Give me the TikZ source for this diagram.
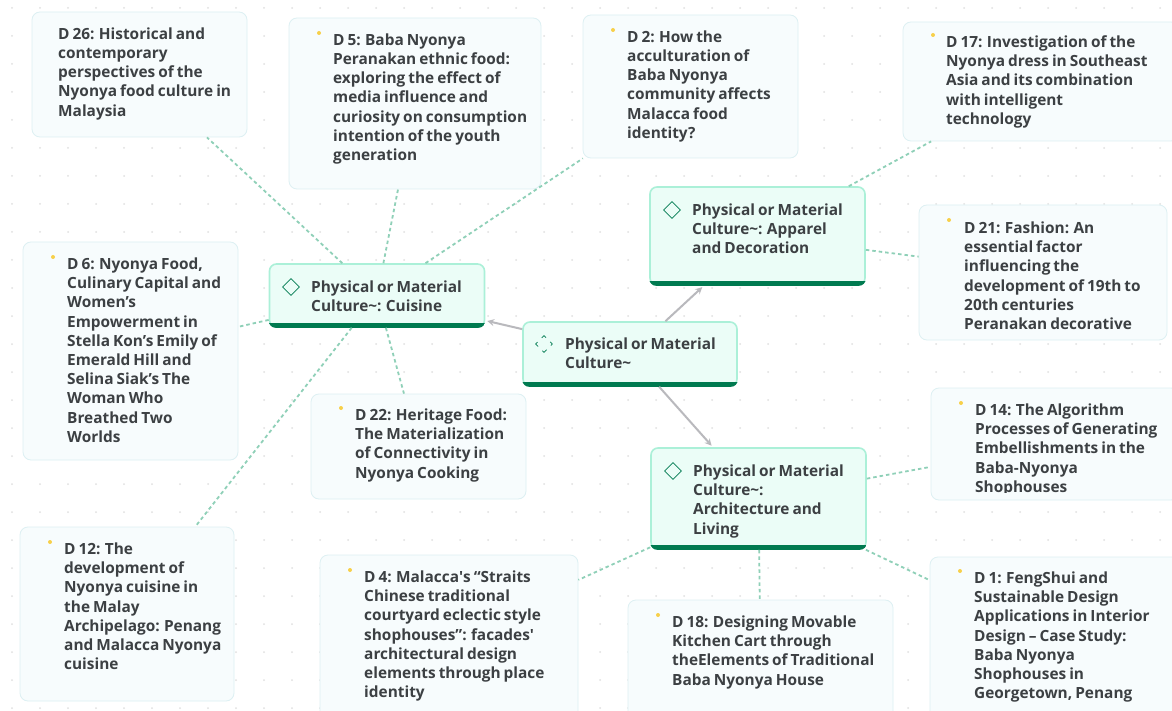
\documentclass[tikz,border=0pt]{standalone}
\usepackage{fontspec}
\setmainfont[WordSpace=0.75]{Open Sans}
\usetikzlibrary{shapes.geometric, arrows}
\definecolor{inkgray}{HTML}{3C4043}
\definecolor{cardfill}{HTML}{F7FCFD}
\definecolor{cardline}{HTML}{DDF0F3}
\definecolor{topicfill}{HTML}{EBFDF7}
\definecolor{topicline}{HTML}{ABF0D8}
\definecolor{topicbar}{HTML}{007A50}
\definecolor{linkgreen}{HTML}{8FD0B8}
\definecolor{arrowgray}{HTML}{B9B9BD}
\definecolor{dotyellow}{HTML}{F7D04A}
\tikzstyle{card} = [rectangle, rounded corners=8pt, draw=cardline, fill=cardfill, line width=0.8pt]
\tikzstyle{topic} = [rectangle, rounded corners=7pt, draw=topicline, fill=topicfill, line width=1.6pt]
\tikzstyle{label} = [anchor=north west, inner sep=0pt, align=left, text=inkgray, font=\fontsize{15.4}{19.2}\selectfont\bfseries]
\tikzstyle{icon} = [diamond, draw=topicbar, line width=0.8pt, minimum width=17pt, minimum height=17pt, inner sep=0pt, aspect=1]
\tikzstyle{bullet} = [circle, fill=dotyellow, inner sep=0pt, minimum size=4pt]
\tikzstyle{arrow} = [line width=2pt, color=arrowgray, >=stealth, ->, shorten >=2pt]
\tikzstyle{link} = [line width=1.8pt, color=linkgreen, dash pattern=on 3.5pt off 3pt]
\newcommand{\drawCard}[8]
{
    \node (#1) [card, minimum width=#4pt, minimum height=#5pt] at (#2,#3) {};
    \begin{scope}
    \clip ([yshift=8pt]#1.south west) rectangle (#1.north east);
    \node (#1text) [label, yshift=-4.5pt] at (#6,#7) {#8};
    \end{scope}
}
\newcommand{\drawTopic}[8]
{
    \node (#1) [topic, minimum width=#4pt, minimum height=#5pt] at (#2,#3) {};
    \begin{scope}
    \clip [rounded corners=7pt] (#1.south west) rectangle (#1.north east);
    \fill [topicbar] (#1.south west) rectangle ([yshift=5pt]#1.south east);
    \end{scope}
    \node (#1text) [label, yshift=-4.5pt] at (#6,#7) {#8};
}
\newcommand{\drawLink}[3]
{
    \draw [#3] (#1) -- (#2);
}
\begin{document}
\begin{tikzpicture}[x=1pt,y=-1pt]
\useasboundingbox [fill=white] (0,0) rectangle (1172,711);
\foreach \i in {0,...,41}
    \foreach \j in {0,...,25}
        \fill [black!12] (12+28*\i,8+28*\j) circle (1pt);

% topics
\drawTopic{physical}{630}{354}{214}{64}{565}{333}{Physical or Material\\Culture\textasciitilde}
\drawTopic{cuisine}{377}{295.5}{215}{63}{311}{276}{Physical or Material\\Culture\textasciitilde: Cuisine}
\drawTopic{apparel}{757.5}{236}{215}{98}{692}{199}{Physical or Material\\Culture\textasciitilde: Apparel\\and Decoration}
\drawTopic{architecture}{758.5}{498.5}{215}{101}{693}{460}{Physical or Material\\Culture\textasciitilde:\\Architecture and\\Living}

\node (iconphysical) [icon, dash pattern=on 6pt off 6pt, dash phase=3pt] at (544,344) {};
\node (iconcuisine) [icon] at (291,287) {};
\node (iconapparel) [icon] at (672,210) {};
\node (iconarchitecture) [icon] at (673,471) {};

% cards round cuisine
\drawCard{d26}{139.5}{74.5}{215}{125}{58}{23}{D 26: Historical and\\contemporary\\perspectives of the\\Nyonya food culture in\\Malaysia}
\drawCard{d5}{415}{103.5}{252}{171}{333}{29}{D 5: Baba Nyonya\\Peranakan ethnic food:\\exploring the effect of\\media influence and\\curiosity on consumption\\intention of the youth\\generation}
\drawCard{d2}{690.5}{86.5}{215}{143}{627}{26}{D 2: How the\\acculturation of\\Baba Nyonya\\community affects\\Malacca food\\identity?}
\drawCard{d6}{130.5}{351}{215}{218}{67}{253}{D 6: Nyonya Food,\\Culinary Capital and\\Women’s\\Empowerment in\\Stella Kon’s Emily of\\Emerald Hill and\\Selina Siak’s The\\Woman Who\\Breathed Two\\Worlds}
\drawCard{d22}{418.5}{446.5}{215}{105}{355}{404}{D 22: Heritage Food:\\The Materialization\\of Connectivity in\\Nyonya Cooking}
\drawCard{d12}{127}{614}{214}{174}{64}{538}{D 12: The\\development of\\Nyonya cuisine in\\the Malay\\Archipelago: Penang\\and Malacca Nyonya\\cuisine}

% cards round apparel
\drawCard{d17}{1041}{81.5}{276}{119}{946}{31}{D 17: Investigation of the\\Nyonya dress in Southeast\\Asia and its combination\\with intelligent\\technology}
\drawCard{d21}{1043}{272.5}{248}{135}{964}{217}{D 21: Fashion: An\\essential factor\\influencing the\\development of 19th to\\20th centuries\\Peranakan decorative}

% cards round architecture
\drawCard{d14}{1055}{444}{248}{112}{975}{399}{D 14: The Algorithm\\Processes of Generating\\Embellishments in the\\Baba-Nyonya\\Shophouses}
\drawCard{d1}{1055}{640}{250}{166}{974}{567}{D 1: FengShui and\\Sustainable Design\\Applications in Interior\\Design -- Case Study:\\Baba Nyonya\\Shophouses in\\Georgetown, Penang}
\drawCard{d18}{760.5}{660}{265}{120}{672}{611}{D 18: Designing Movable\\Kitchen Cart through\\theElements of Traditional\\Baba Nyonya House}
\drawCard{d4}{449}{638}{258}{166}{364}{566}{D 4: Malacca\textquotesingle s “Straits\\Chinese traditional\\courtyard eclectic style\\shophouses”: facades\textquotesingle\\architectural design\\elements through place\\identity}

\node (dotd5) [bullet] at (319,33) {};
\node (dotd2) [bullet] at (613,30) {};
\node (dotd17) [bullet] at (933,35) {};
\node (dotd21) [bullet] at (949,220) {};
\node (dotd6) [bullet] at (53,257) {};
\node (dotd22) [bullet] at (341,408) {};
\node (dotd12) [bullet] at (50,542) {};
\node (dotd14) [bullet] at (961,403) {};
\node (dotd1) [bullet] at (960,571) {};
\node (dotd18) [bullet] at (658,615) {};
\node (dotd4) [bullet] at (350,570) {};

\drawLink{physical}{cuisine}{arrow}
\drawLink{physical}{apparel}{arrow}
\drawLink{physical}{architecture}{arrow}

\drawLink{cuisine}{d26}{link}
\drawLink{cuisine}{d5}{link}
\drawLink{cuisine}{d2}{link}
\drawLink{cuisine}{d6}{link}
\drawLink{cuisine}{d22}{link}
\drawLink{cuisine}{d12}{link}

\drawLink{apparel}{d17}{link}
\drawLink{apparel}{d21}{link}

\drawLink{architecture}{d14}{link}
\drawLink{architecture}{d1}{link}
\drawLink{architecture}{d18}{link}
\drawLink{architecture}{d4}{link}

\end{tikzpicture}
\end{document}
